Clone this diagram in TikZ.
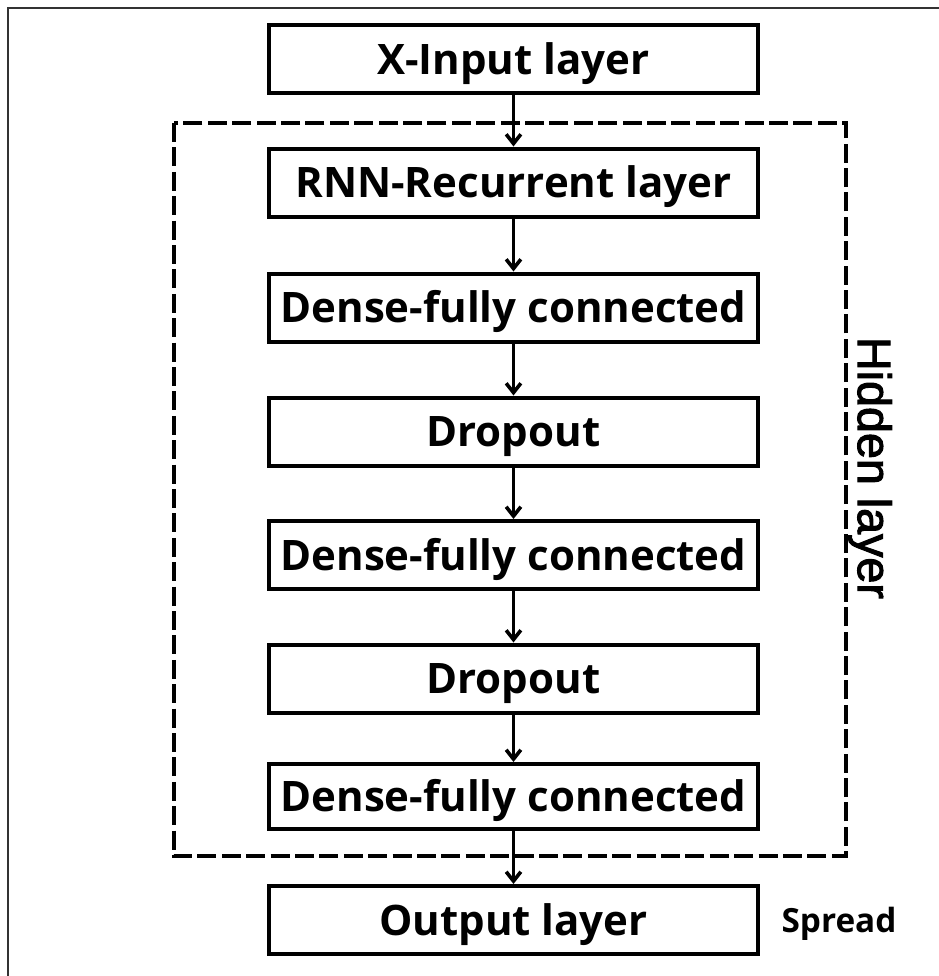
\documentclass[tikz,border=0pt]{standalone}
\usepackage{fontspec}
\setmainfont{Open Sans}
\newfontfamily\sidefont{Liberation Sans}[FakeBold=2.2]
\usetikzlibrary{arrows.meta}
\begin{document}
\begin{tikzpicture}[x=0.75pt,y=-0.75pt,
  layerbox/.style={draw=black,line width=3pt,minimum width=489*0.75pt,minimum height=68*0.75pt,
    inner sep=0pt,text height=22.5pt,text depth=0pt,font=\fontsize{31.5}{36}\selectfont\bfseries,text=black},
  flow/.style={draw=black,line width=2.7pt,-{Straight Barb[length=7pt,width=11pt,line width=2.7pt]}},
  hiddenbox/.style={draw=black,line width=2.7pt,dash pattern=on 14.3pt off 4pt},
  frameline/.style={draw=black!80,line width=1.1pt}]
\useasboundingbox (0,0) rectangle (939,976);
\fill[white] (0,0) rectangle (939,976);
\draw[frameline] (939,8) -- (8,8) -- (8,976);
\draw[hiddenbox] (174,123) rectangle (846,856);
\node[layerbox] (x)   at (513.5,59)  {X-Input layer};
\node[layerbox] (rnn) at (513.5,182.5) {RNN-Recurrent layer};
\node[layerbox] (d1)  at (513.5,307.5) {Dense-fully connected};
\node[layerbox] (dr1) at (513.5,431.5) {Dropout};
\node[layerbox] (d2)  at (513.5,555) {Dense-fully connected};
\node[layerbox] (dr2) at (513.5,678.5) {Dropout};
\node[layerbox,minimum height=65*0.75pt] (d3)  at (513.5,796.5) {Dense-fully connected};
\node[layerbox] (out) at (513.5,920) {Output layer};
\draw[flow] (x) -- (rnn);
\draw[flow] (rnn) -- (d1);
\draw[flow] (d1) -- (dr1);
\draw[flow] (dr1) -- (d2);
\draw[flow] (d2) -- (dr2);
\draw[flow] (dr2) -- (d3);
\draw[flow] (d3) -- (out);
\node[rotate=-90,font=\sidefont\fontsize{35}{40}\selectfont,text=black] (hl) at (870,468) {Hidden layer};
\node[font=\fontsize{25}{30}\selectfont\bfseries,text=black,text height=18pt,text depth=0pt,inner sep=0pt] (sp) at (839,920) {Spread};
\end{tikzpicture}
\end{document}
